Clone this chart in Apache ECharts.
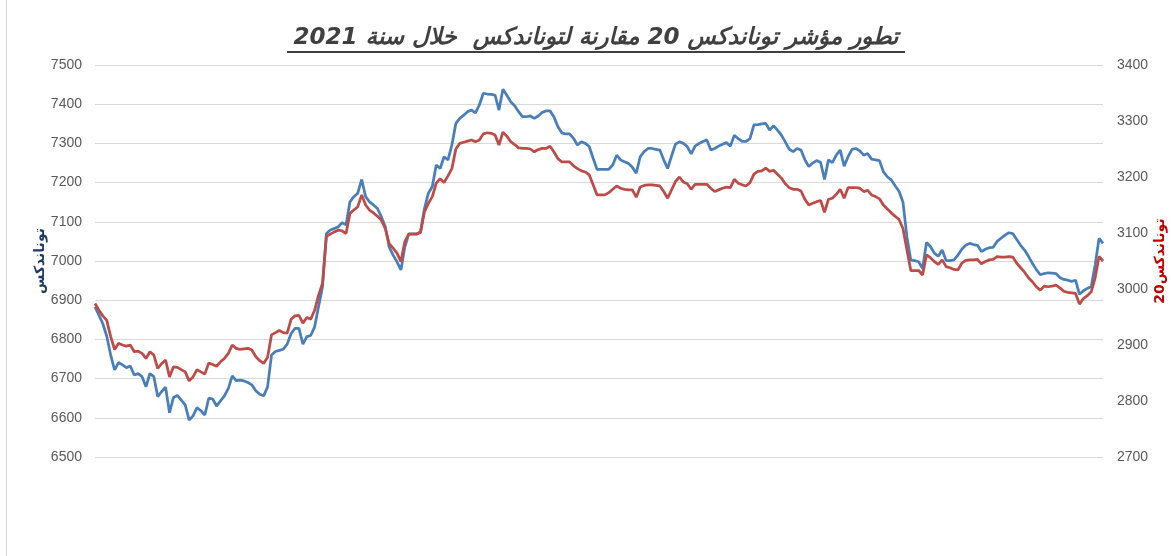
<!DOCTYPE html>
<html>
<head>
<meta charset="utf-8">
<script src="https://cdn.jsdelivr.net/npm/echarts@6/dist/echarts.min.js"></script>
<style>html,body{margin:0;padding:0;background:#fff}#c{width:1171px;height:556px}</style>
</head>
<body>
<div id="c"></div>
<script>
const titleText = 'تطور مؤشر توناندكس 20 مقارنة لتوناندكس  خلال سنة 2021';
const leftName = 'توناندكس';
const rightName = 'توناندكس20';
const leftTicks = {min: 6500, max: 7500, interval: 100};
const rightTicks = {min: 2700, max: 3400, interval: 100};

const tunindex = [
6883,6862,6840,6808,6760,6722,6741,6735,6728,6732,
6709,6713,6705,6679,6713,6705,6654,6667,6678,6613,
6652,6657,6645,6633,6594,6605,6626,6618,6607,6650,
6648,6630,6643,6656,6675,6707,6695,6696,6694,6690,
6684,6669,6660,6656,6679,6760,6769,6772,6775,6788,
6815,6828,6828,6788,6807,6810,6832,6884,6934,7070,
7079,7083,7087,7098,7092,7151,7164,7173,7208,7164,
7151,7143,7134,7113,7088,7036,7015,6998,6977,7036,
7069,7069,7069,7075,7134,7173,7190,7245,7236,7266,
7258,7296,7351,7364,7372,7381,7385,7378,7398,7428,
7426,7425,7423,7385,7438,7423,7406,7396,7381,7368,
7368,7370,7364,7370,7379,7383,7383,7368,7343,7327,
7324,7324,7313,7296,7304,7300,7292,7262,7234,7234,
7234,7234,7245,7270,7258,7253,7249,7239,7224,7266,
7279,7287,7287,7285,7283,7258,7236,7268,7298,7304,
7300,7292,7273,7293,7300,7305,7309,7283,7287,7293,
7298,7302,7293,7321,7312,7305,7305,7312,7347,7348,
7350,7351,7334,7345,7334,7321,7304,7285,7279,7287,
7283,7258,7241,7250,7256,7252,7208,7258,7251,7270,
7283,7242,7266,7285,7287,7281,7270,7274,7260,7258,
7256,7228,7215,7207,7192,7178,7150,7062,7002,7001,
6998,6981,7047,7037,7020,7012,7028,7001,7001,7003,
7015,7030,7040,7045,7042,7040,7024,7030,7034,7035,
7050,7058,7066,7072,7070,7055,7040,7028,7012,6994,
6978,6965,6968,6970,6969,6968,6958,6953,6951,6948,
6951,6915,6924,6930,6935,6990,7058,7045
];

const tunindex20 = [
2974,2962,2952,2944,2915,2892,2903,2900,2898,2900,
2888,2889,2885,2876,2888,2882,2858,2867,2873,2843,
2861,2860,2856,2852,2836,2843,2856,2852,2848,2868,
2865,2862,2870,2876,2885,2900,2894,2892,2893,2894,
2891,2879,2872,2867,2878,2918,2922,2926,2922,2921,
2946,2952,2953,2939,2949,2946,2962,2989,3010,3094,
3098,3102,3105,3104,3099,3135,3141,3147,3168,3150,
3141,3136,3130,3123,3108,3081,3073,3064,3049,3085,
3098,3098,3098,3101,3138,3153,3165,3189,3197,3190,
3202,3215,3250,3260,3262,3264,3266,3263,3266,3277,
3279,3278,3275,3257,3280,3273,3263,3258,3252,3251,
3251,3250,3245,3249,3251,3251,3255,3245,3233,3227,
3227,3227,3220,3215,3211,3209,3204,3186,3168,3168,
3168,3172,3178,3184,3180,3178,3177,3177,3164,3182,
3185,3186,3186,3185,3184,3174,3162,3177,3192,3200,
3191,3188,3178,3187,3187,3187,3187,3180,3174,3177,
3180,3182,3181,3196,3189,3186,3184,3190,3205,3210,
3211,3216,3210,3212,3205,3198,3188,3181,3178,3178,
3175,3160,3150,3153,3156,3158,3137,3160,3162,3169,
3178,3162,3181,3181,3181,3180,3174,3176,3168,3165,
3161,3150,3143,3136,3130,3124,3108,3070,3033,3033,
3033,3025,3061,3056,3049,3044,3052,3040,3038,3035,
3034,3046,3051,3052,3052,3053,3045,3049,3052,3053,
3058,3057,3057,3058,3057,3046,3038,3030,3020,3013,
3004,2998,3005,3004,3005,3007,3002,2996,2994,2993,
2992,2973,2983,2988,2995,3020,3058,3050
];

const sessions = tunindex.map((_, i) => String(i + 1));

const chart = echarts.init(document.getElementById('c'), null, {renderer: 'canvas'});
const axisLabel = {color: '#595959', fontSize: 14, fontFamily: '"Liberation Sans", Arial, sans-serif', formatter: v => String(v)};
chart.setOption({
  animation: false,
  backgroundColor: '#ffffff',
  grid: {left: 95, right: 68, top: 65, bottom: 99, containLabel: false, outerBoundsMode: 'none'},
  graphic: [
    {type: 'rect', shape: {x: 6.5, y: -5, width: 1200, height: 600}, style: {fill: 'none', stroke: '#d9d9d9', lineWidth: 1}, silent: true},
    {type: 'text', x: 596, y: 38, style: {text: titleText, fill: '#404040', font: 'italic bold 23px "DejaVu Sans", sans-serif', align: 'center', verticalAlign: 'middle'}},
    {type: 'rect', shape: {x: 287, y: 51, width: 618, height: 2}, style: {fill: '#404040'}}
  ],
  xAxis: {type: 'category', data: sessions, boundaryGap: false, show: false},
  yAxis: [
    {type: 'value', position: 'left', min: leftTicks.min, max: leftTicks.max, interval: leftTicks.interval,
     name: leftName, nameLocation: 'middle', nameRotate: 90, nameGap: 48, nameMoveOverlap: false,
     nameTextStyle: {color: '#1F3864', fontWeight: 'bold', fontSize: 14, fontFamily: '"DejaVu Sans", sans-serif'},
     axisLine: {show: false}, axisTick: {show: false}, axisLabel: Object.assign({margin: 13}, axisLabel),
     splitLine: {lineStyle: {color: '#d9d9d9', width: 1}}},
    {type: 'value', position: 'right', min: rightTicks.min, max: rightTicks.max, interval: rightTicks.interval,
     name: rightName, nameLocation: 'middle', nameRotate: 90, nameGap: 50, nameMoveOverlap: false,
     nameTextStyle: {color: '#C00000', fontWeight: 'bold', fontSize: 14, fontFamily: '"DejaVu Sans", sans-serif'},
     axisLine: {show: false}, axisTick: {show: false}, axisLabel: Object.assign({margin: 14}, axisLabel),
     splitLine: {show: false}}
  ],
  series: [
    {name: leftName, type: 'line', yAxisIndex: 0, data: tunindex, showSymbol: false, symbol: 'none',
     lineStyle: {color: '#4A7EBB', width: 2.75}, itemStyle: {color: '#4A7EBB'}},
    {name: rightName, type: 'line', yAxisIndex: 1, data: tunindex20, showSymbol: false, symbol: 'none',
     lineStyle: {color: '#BE4B48', width: 2.75}, itemStyle: {color: '#BE4B48'}}
  ]
});
</script>
</body>
</html>
